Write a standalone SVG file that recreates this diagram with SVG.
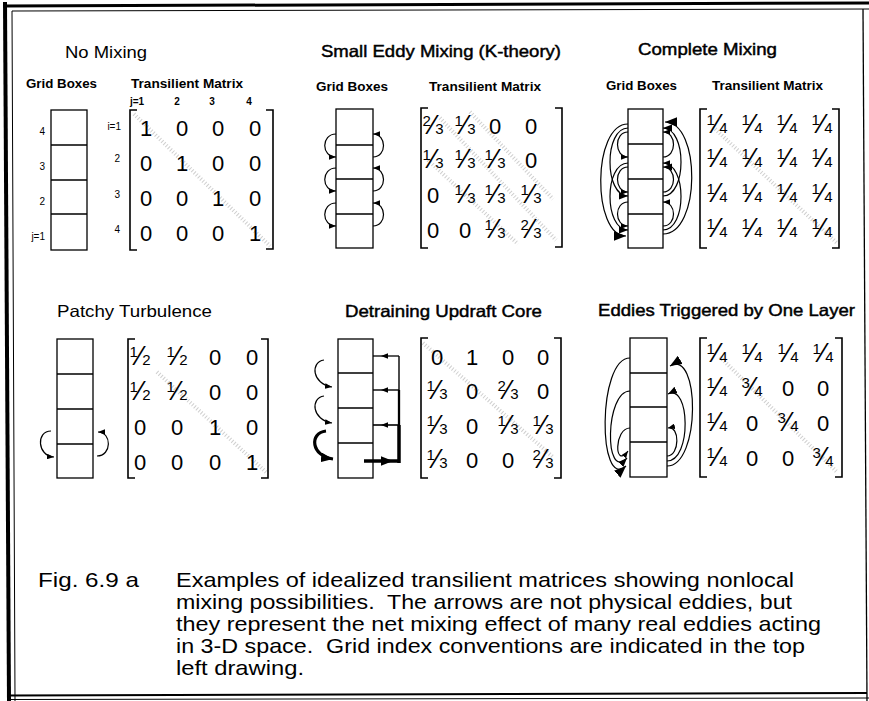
<svg xmlns="http://www.w3.org/2000/svg" width="869" height="701" viewBox="0 0 869 701">
<defs>
<marker id="a" viewBox="0 0 10 8" refX="10" refY="4" markerWidth="7" markerHeight="5.6" orient="auto" markerUnits="userSpaceOnUse"><path d="M0,0 L10,4 L0,8 z"/></marker>
<marker id="am" viewBox="0 0 10 8" refX="10" refY="4" markerWidth="9" markerHeight="7.2" orient="auto" markerUnits="userSpaceOnUse"><path d="M0,0 L10,4 L0,8 z"/></marker>
<marker id="b" viewBox="0 0 10 8" refX="10" refY="4" markerWidth="12" markerHeight="9.6" orient="auto" markerUnits="userSpaceOnUse"><path d="M0,0 L10,4 L0,8 z"/></marker>
</defs>
<style>
text{font-family:"Liberation Sans",Arial,Helvetica,sans-serif;fill:#000}
.t{font-size:16.5px}
.tb{stroke:#000;stroke-width:0.45px}
.sl{font-size:12px;font-weight:bold}
.ix{font-size:10px;font-weight:bold}
.ir{font-size:10px}
.e{font-size:22px;text-anchor:middle}
.s{font-size:15px}
.f{font-size:27px}
.cap{font-size:21px;white-space:pre}
.box{fill:none;stroke:#000;stroke-width:1.3}
.br{fill:none;stroke:#000;stroke-width:1.6}
.dg{fill:none;stroke:#cfcfcf;stroke-width:4;stroke-dasharray:1 2}
.arc{fill:none;stroke:#000;stroke-width:1.2}
.fr{fill:none;stroke:#000}
</style>
<rect width="869" height="701" fill="#fff"/>

<g id="frame">
<path class="fr" d="M3,6 L869,3" stroke-width="3"/>
<path class="fr" d="M12,11 L869,9" stroke-width="1" stroke="#333"/>
<path class="fr" d="M5,2 L9,701" stroke-width="4"/>
<path class="fr" d="M12,11 L15,701" stroke-width="1" stroke="#999"/>
<path class="fr" d="M863,9 L867,701" stroke-width="1.3"/>
<path class="fr" d="M10,695.5 L867,693" stroke-width="2"/>
<path class="fr" d="M10,699.5 L869,698" stroke-width="1" stroke="#aaa"/>
</g>

<g id="panel-no-mixing">
<text class="t" x="65" y="58" textLength="82" lengthAdjust="spacingAndGlyphs">No Mixing</text>
<text class="sl" x="26" y="88" textLength="71" lengthAdjust="spacingAndGlyphs">Grid Boxes</text>
<text class="sl" x="131" y="88" textLength="112" lengthAdjust="spacingAndGlyphs">Transilient Matrix</text>
<g id="grid-no-mixing">
<rect class="box" x="51" y="110" width="36" height="140"/>
<path class="box" d="M51,145 H87 M51,180 H87 M51,214 H87"/>
<text class="ir" x="45" y="135" text-anchor="end">4</text>
<text class="ir" x="45" y="170" text-anchor="end">3</text>
<text class="ir" x="45" y="205" text-anchor="end">2</text>
<text class="ir" x="45" y="240" text-anchor="end">j=1</text>
</g>
<g id="matrix-no-mixing">
<text class="ix" x="130" y="105">j=1</text>
<text class="ix" x="177" y="105" text-anchor="middle">2</text>
<text class="ix" x="212" y="105" text-anchor="middle">3</text>
<text class="ix" x="249" y="105" text-anchor="middle">4</text>
<text class="ir" x="121" y="130" text-anchor="end">i=1</text>
<text class="ir" x="120" y="162" text-anchor="end">2</text>
<text class="ir" x="120" y="198" text-anchor="end">3</text>
<text class="ir" x="120" y="233" text-anchor="end">4</text>
<path class="dg" d="M134,114 L270,246"/>
<path class="br" d="M137,110 H130 V250 H137 M266,110 H273 V249 H266"/>
<text class="e" x="146" y="136">1</text><text class="e" x="182" y="136">0</text><text class="e" x="218" y="136">0</text><text class="e" x="255" y="136">0</text>
<text class="e" x="146" y="171">0</text><text class="e" x="182" y="171">1</text><text class="e" x="218" y="171">0</text><text class="e" x="255" y="171">0</text>
<text class="e" x="146" y="206">0</text><text class="e" x="182" y="206">0</text><text class="e" x="218" y="206">1</text><text class="e" x="255" y="206">0</text>
<text class="e" x="146" y="241">0</text><text class="e" x="182" y="241">0</text><text class="e" x="218" y="241">0</text><text class="e" x="255" y="241">1</text>
</g>
</g>

<g id="panel-small-eddy">
<text class="t tb" x="321" y="57" textLength="240" lengthAdjust="spacingAndGlyphs">Small Eddy Mixing (K-theory)</text>
<text class="sl" x="316" y="91" textLength="72" lengthAdjust="spacingAndGlyphs">Grid Boxes</text>
<text class="sl" x="429" y="91" textLength="112" lengthAdjust="spacingAndGlyphs">Transilient Matrix</text>
<g id="grid-small-eddy">
<rect class="box" x="336" y="109" width="37" height="139"/>
<path class="box" d="M336,145 H373 M336,179 H373 M336,214 H373"/>
</g>
<g id="matrix-small-eddy">
<path class="dg" d="M440,118 L556,240 M470,112 L553,199 M428,160 L518,244"/>
<path class="br" d="M428,108 H421 V248 H428 M555,108 H562 V247 H555"/>
<text class="e" x="433" y="134"><tspan class="s" dy="-8">2</tspan><tspan class="f" dy="8">⁄</tspan><tspan class="s">3</tspan></text>
<text class="e" x="465" y="134"><tspan class="s" dy="-8">1</tspan><tspan class="f" dy="8">⁄</tspan><tspan class="s">3</tspan></text>
<text class="e" x="495" y="134">0</text><text class="e" x="531" y="134">0</text>
<text class="e" x="433" y="168"><tspan class="s" dy="-8">1</tspan><tspan class="f" dy="8">⁄</tspan><tspan class="s">3</tspan></text>
<text class="e" x="465" y="168"><tspan class="s" dy="-8">1</tspan><tspan class="f" dy="8">⁄</tspan><tspan class="s">3</tspan></text>
<text class="e" x="495" y="168"><tspan class="s" dy="-8">1</tspan><tspan class="f" dy="8">⁄</tspan><tspan class="s">3</tspan></text>
<text class="e" x="531" y="168">0</text>
<text class="e" x="433" y="203">0</text>
<text class="e" x="465" y="203"><tspan class="s" dy="-8">1</tspan><tspan class="f" dy="8">⁄</tspan><tspan class="s">3</tspan></text>
<text class="e" x="495" y="203"><tspan class="s" dy="-8">1</tspan><tspan class="f" dy="8">⁄</tspan><tspan class="s">3</tspan></text>
<text class="e" x="531" y="203"><tspan class="s" dy="-8">1</tspan><tspan class="f" dy="8">⁄</tspan><tspan class="s">3</tspan></text>
<text class="e" x="433" y="238">0</text><text class="e" x="465" y="238">0</text>
<text class="e" x="495" y="238"><tspan class="s" dy="-8">1</tspan><tspan class="f" dy="8">⁄</tspan><tspan class="s">3</tspan></text>
<text class="e" x="531" y="238"><tspan class="s" dy="-8">2</tspan><tspan class="f" dy="8">⁄</tspan><tspan class="s">3</tspan></text>
</g>
</g>

<g id="panel-complete-mixing">
<text class="t tb" x="638" y="55" textLength="139" lengthAdjust="spacingAndGlyphs">Complete Mixing</text>
<text class="sl" x="606" y="90" textLength="71" lengthAdjust="spacingAndGlyphs">Grid Boxes</text>
<text class="sl" x="712" y="90" textLength="111" lengthAdjust="spacingAndGlyphs">Transilient Matrix</text>
<g id="grid-complete-mixing">
<rect class="box" x="628" y="109" width="35" height="139"/>
<path class="box" d="M628,144 H663 M628,179 H663 M628,214 H663"/>
</g>
<g id="matrix-complete-mixing">
<path class="dg" d="M713,127 L837,243"/>
<path class="br" d="M707,109 H700 V248 H707 M832,109 H839 V248 H832"/>
<text class="e" x="717" y="133"><tspan class="s" dy="-8">1</tspan><tspan class="f" dy="8">⁄</tspan><tspan class="s">4</tspan></text>
<text class="e" x="752" y="133"><tspan class="s" dy="-8">1</tspan><tspan class="f" dy="8">⁄</tspan><tspan class="s">4</tspan></text>
<text class="e" x="787" y="133"><tspan class="s" dy="-8">1</tspan><tspan class="f" dy="8">⁄</tspan><tspan class="s">4</tspan></text>
<text class="e" x="822" y="133"><tspan class="s" dy="-8">1</tspan><tspan class="f" dy="8">⁄</tspan><tspan class="s">4</tspan></text>
<text class="e" x="717" y="167"><tspan class="s" dy="-8">1</tspan><tspan class="f" dy="8">⁄</tspan><tspan class="s">4</tspan></text>
<text class="e" x="752" y="167"><tspan class="s" dy="-8">1</tspan><tspan class="f" dy="8">⁄</tspan><tspan class="s">4</tspan></text>
<text class="e" x="787" y="167"><tspan class="s" dy="-8">1</tspan><tspan class="f" dy="8">⁄</tspan><tspan class="s">4</tspan></text>
<text class="e" x="822" y="167"><tspan class="s" dy="-8">1</tspan><tspan class="f" dy="8">⁄</tspan><tspan class="s">4</tspan></text>
<text class="e" x="717" y="202"><tspan class="s" dy="-8">1</tspan><tspan class="f" dy="8">⁄</tspan><tspan class="s">4</tspan></text>
<text class="e" x="752" y="202"><tspan class="s" dy="-8">1</tspan><tspan class="f" dy="8">⁄</tspan><tspan class="s">4</tspan></text>
<text class="e" x="787" y="202"><tspan class="s" dy="-8">1</tspan><tspan class="f" dy="8">⁄</tspan><tspan class="s">4</tspan></text>
<text class="e" x="822" y="202"><tspan class="s" dy="-8">1</tspan><tspan class="f" dy="8">⁄</tspan><tspan class="s">4</tspan></text>
<text class="e" x="717" y="237"><tspan class="s" dy="-8">1</tspan><tspan class="f" dy="8">⁄</tspan><tspan class="s">4</tspan></text>
<text class="e" x="752" y="237"><tspan class="s" dy="-8">1</tspan><tspan class="f" dy="8">⁄</tspan><tspan class="s">4</tspan></text>
<text class="e" x="787" y="237"><tspan class="s" dy="-8">1</tspan><tspan class="f" dy="8">⁄</tspan><tspan class="s">4</tspan></text>
<text class="e" x="822" y="237"><tspan class="s" dy="-8">1</tspan><tspan class="f" dy="8">⁄</tspan><tspan class="s">4</tspan></text>
</g>
</g>

<g id="panel-patchy">
<text class="t" x="57" y="317" textLength="155" lengthAdjust="spacingAndGlyphs">Patchy Turbulence</text>
<g id="grid-patchy">
<rect class="box" x="57" y="339" width="36" height="139"/>
<path class="box" d="M57,374 H93 M57,409 H93 M57,444 H93"/>
</g>
<g id="matrix-patchy">
<path class="dg" d="M157,372 L267,473"/>
<path class="br" d="M135,339 H128 V478 H135 M261,339 H268 V478 H261"/>
<text class="e" x="140" y="365"><tspan class="s" dy="-8">1</tspan><tspan class="f" dy="8">⁄</tspan><tspan class="s">2</tspan></text>
<text class="e" x="177" y="365"><tspan class="s" dy="-8">1</tspan><tspan class="f" dy="8">⁄</tspan><tspan class="s">2</tspan></text>
<text class="e" x="215" y="365">0</text><text class="e" x="252" y="365">0</text>
<text class="e" x="140" y="400"><tspan class="s" dy="-8">1</tspan><tspan class="f" dy="8">⁄</tspan><tspan class="s">2</tspan></text>
<text class="e" x="177" y="400"><tspan class="s" dy="-8">1</tspan><tspan class="f" dy="8">⁄</tspan><tspan class="s">2</tspan></text>
<text class="e" x="215" y="400">0</text><text class="e" x="252" y="400">0</text>
<text class="e" x="140" y="435">0</text><text class="e" x="177" y="435">0</text><text class="e" x="215" y="435">1</text><text class="e" x="252" y="435">0</text>
<text class="e" x="140" y="470">0</text><text class="e" x="177" y="470">0</text><text class="e" x="215" y="470">0</text><text class="e" x="252" y="470">1</text>
</g>
</g>

<g id="panel-detraining">
<text class="t tb" x="345" y="317" textLength="197" lengthAdjust="spacingAndGlyphs">Detraining Updraft Core</text>
<g id="grid-detraining">
<rect class="box" x="338" y="339" width="35" height="139"/>
<path class="box" d="M338,373 H373 M338,408 H373 M338,443 H373"/>
</g>
<g id="matrix-detraining">
<path class="dg" d="M423,343 L553,457"/>
<path class="br" d="M428,338 H421 V478 H428 M554,338 H561 V478 H554"/>
<text class="e" x="437" y="365">0</text><text class="e" x="472" y="365">1</text><text class="e" x="508" y="365">0</text><text class="e" x="543" y="365">0</text>
<text class="e" x="437" y="399"><tspan class="s" dy="-8">1</tspan><tspan class="f" dy="8">⁄</tspan><tspan class="s">3</tspan></text>
<text class="e" x="472" y="399">0</text>
<text class="e" x="508" y="399"><tspan class="s" dy="-8">2</tspan><tspan class="f" dy="8">⁄</tspan><tspan class="s">3</tspan></text>
<text class="e" x="543" y="399">0</text>
<text class="e" x="437" y="434"><tspan class="s" dy="-8">1</tspan><tspan class="f" dy="8">⁄</tspan><tspan class="s">3</tspan></text>
<text class="e" x="472" y="434">0</text>
<text class="e" x="508" y="434"><tspan class="s" dy="-8">1</tspan><tspan class="f" dy="8">⁄</tspan><tspan class="s">3</tspan></text>
<text class="e" x="543" y="434"><tspan class="s" dy="-8">1</tspan><tspan class="f" dy="8">⁄</tspan><tspan class="s">3</tspan></text>
<text class="e" x="437" y="468"><tspan class="s" dy="-8">1</tspan><tspan class="f" dy="8">⁄</tspan><tspan class="s">3</tspan></text>
<text class="e" x="472" y="468">0</text><text class="e" x="508" y="468">0</text>
<text class="e" x="543" y="468"><tspan class="s" dy="-8">2</tspan><tspan class="f" dy="8">⁄</tspan><tspan class="s">3</tspan></text>
</g>
</g>

<g id="panel-eddies-one-layer">
<text class="t tb" x="598" y="316" textLength="257" lengthAdjust="spacingAndGlyphs">Eddies Triggered by One Layer</text>
<g id="grid-eddies-one-layer">
<rect class="box" x="630" y="338" width="37" height="139"/>
<path class="box" d="M630,373 H667 M630,407 H667 M630,442 H667"/>
</g>
<g id="matrix-eddies-one-layer">
<path class="dg" d="M720,357 L837,472"/>
<path class="br" d="M707,338 H700 V477 H707 M835,338 H842 V477 H835"/>
<text class="e" x="717" y="362"><tspan class="s" dy="-8">1</tspan><tspan class="f" dy="8">⁄</tspan><tspan class="s">4</tspan></text>
<text class="e" x="752" y="362"><tspan class="s" dy="-8">1</tspan><tspan class="f" dy="8">⁄</tspan><tspan class="s">4</tspan></text>
<text class="e" x="788" y="362"><tspan class="s" dy="-8">1</tspan><tspan class="f" dy="8">⁄</tspan><tspan class="s">4</tspan></text>
<text class="e" x="823" y="362"><tspan class="s" dy="-8">1</tspan><tspan class="f" dy="8">⁄</tspan><tspan class="s">4</tspan></text>
<text class="e" x="717" y="396"><tspan class="s" dy="-8">1</tspan><tspan class="f" dy="8">⁄</tspan><tspan class="s">4</tspan></text>
<text class="e" x="752" y="396"><tspan class="s" dy="-8">3</tspan><tspan class="f" dy="8">⁄</tspan><tspan class="s">4</tspan></text>
<text class="e" x="788" y="396">0</text><text class="e" x="823" y="396">0</text>
<text class="e" x="717" y="431"><tspan class="s" dy="-8">1</tspan><tspan class="f" dy="8">⁄</tspan><tspan class="s">4</tspan></text>
<text class="e" x="752" y="431">0</text>
<text class="e" x="788" y="431"><tspan class="s" dy="-8">3</tspan><tspan class="f" dy="8">⁄</tspan><tspan class="s">4</tspan></text>
<text class="e" x="823" y="431">0</text>
<text class="e" x="717" y="466"><tspan class="s" dy="-8">1</tspan><tspan class="f" dy="8">⁄</tspan><tspan class="s">4</tspan></text>
<text class="e" x="752" y="466">0</text><text class="e" x="788" y="466">0</text>
<text class="e" x="823" y="466"><tspan class="s" dy="-8">3</tspan><tspan class="f" dy="8">⁄</tspan><tspan class="s">4</tspan></text>
</g>
</g>

<g id="connectors">
<g id="arrows-small-eddy" class="arc">
<path d="M336,134 C321,134 321,157 336,157" marker-end="url(#a)"/>
<path d="M336,168 C321,168 321,191 336,191" marker-end="url(#a)"/>
<path d="M336,203 C321,203 321,226 336,226" marker-end="url(#a)"/>
<path d="M373,157 C387,157 387,134 373,134" marker-end="url(#a)"/>
<path d="M373,191 C387,191 387,168 373,168" marker-end="url(#a)"/>
<path d="M373,226 C387,226 387,203 373,203" marker-end="url(#a)"/>
</g>
<g id="arrows-complete-mixing" class="arc">
<path d="M628,132 C614,132 614,157 628,157" marker-end="url(#a)"/>
<path d="M628,167 C614,167 614,192 628,192" marker-end="url(#a)"/>
<path d="M628,202 C614,202 614,226 628,226" marker-end="url(#a)"/>
<path d="M628,128 C604,128 604,196 628,196" marker-end="url(#am)"/>
<path d="M628,163 C604,163 604,230 628,230" marker-end="url(#am)"/>
<path d="M628,124 C592,124 592,236 626,236" marker-end="url(#b)"/>
<path d="M663,157 C677,157 677,132 663,132" marker-end="url(#a)"/>
<path d="M663,192 C677,192 677,167 663,167" marker-end="url(#am)"/>
<path d="M663,226 C677,226 677,202 663,202" marker-end="url(#a)"/>
<path d="M663,196 C687,196 687,128 663,128" marker-end="url(#am)"/>
<path d="M663,230 C687,230 687,163 663,163" marker-end="url(#a)"/>
<path d="M663,234 C701,234 701,122 665,122" marker-end="url(#b)"/>
</g>
<g id="arrows-patchy" class="arc">
<path d="M51,431 C36,431 37,456 54,457" marker-end="url(#a)"/>
<path d="M97,456 C112,456 112,432 98,432" marker-end="url(#a)"/>
</g>
<g id="arrows-detraining" class="arc">
<path d="M324,360 C310,362 312,384 332,387" marker-end="url(#a)"/>
<path d="M324,396 C310,398 312,420 332,423" marker-end="url(#a)"/>
<path d="M326,431 C309,433 311,456 333,459" stroke-width="3.2" marker-end="url(#b)"/>
<path d="M399,356 V390" stroke-width="1.4"/>
<path d="M399,390 V425" stroke-width="2.3"/>
<path d="M399,425 V463" stroke-width="3.5"/>
<path d="M399,356 H381 H373" stroke-width="1.3" marker-mid="url(#a)"/>
<path d="M399,390 H381 H373" stroke-width="1.4" marker-mid="url(#a)"/>
<path d="M399,425 H381 H373" stroke-width="1.6" marker-mid="url(#a)"/>
<path d="M364,461 H393 H399" stroke-width="3.5" marker-mid="url(#b)"/>
</g>
<g id="arrows-eddies-one-layer" class="arc">
<path d="M630,358 C597,358 598,492 626,466" marker-end="url(#b)"/>
<path d="M630,391 C605,391 604,482 627,458" marker-end="url(#am)"/>
<path d="M630,428 C614,428 614,470 628,451" marker-end="url(#a)"/>
<path d="M667,466 C701,466 700,348 670,366" marker-end="url(#b)"/>
<path d="M667,461 C692,461 690,383 668,394" marker-end="url(#am)"/>
<path d="M667,456 C680,456 680,425 668,428" marker-end="url(#a)"/>
</g>
</g>

<g id="caption">
<text class="cap" x="38" y="587" textLength="101" lengthAdjust="spacingAndGlyphs">Fig. 6.9 a</text>
<text class="cap" x="176" y="587" textLength="618" lengthAdjust="spacingAndGlyphs">Examples of idealized transilient matrices showing nonlocal</text>
<text class="cap" x="176" y="609" textLength="616" lengthAdjust="spacingAndGlyphs">mixing possibilities.  The arrows are not physical eddies, but</text>
<text class="cap" x="176" y="631" textLength="645" lengthAdjust="spacingAndGlyphs">they represent the net mixing effect of many real eddies acting</text>
<text class="cap" x="176" y="653" textLength="629" lengthAdjust="spacingAndGlyphs">in 3-D space.  Grid index conventions are indicated in the top</text>
<text class="cap" x="176" y="675" textLength="128" lengthAdjust="spacingAndGlyphs">left drawing.</text>
</g>
</svg>
